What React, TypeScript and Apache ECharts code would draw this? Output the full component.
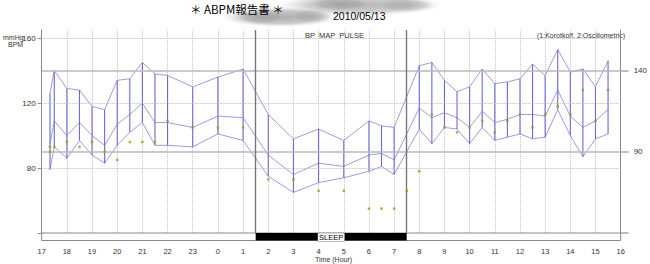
import React, { useEffect, useRef } from "react";
import * as echarts from "echarts";

// Measurement times (hours, continuous: 24 = 0:00, 40 = 16:00 next day)
const times = [17.33, 17.5, 18, 18.5, 19, 19.5, 20, 20.5, 21, 21.5, 22, 23, 24, 25, 26, 27, 28, 29, 30, 30.5, 31, 32, 32.5, 33, 33.5, 34, 34.5, 35, 35.5, 36, 36.5, 37, 37.5, 38, 38.5, 39, 39.5];
const sbp = [126, 140, 129, 128, 118, 116, 134, 135, 145, 138, 137, 130, 136, 141, 113, 98, 104, 97, 109, 106, 105, 143, 145, 134, 127, 130, 141, 132, 133, 135, 144, 137, 153, 139, 141, 130, 146];
const mapv = [95, 109, 100, 108, 100, 94, 107, 113, 120, 108, 108, 105, 112, 111, 88, 76, 83, 81, 88, 89, 85, 117, 111, 114, 111, 105, 115, 108, 110, 113, 113, 112, 128, 112, 105, 109, 116];
const dbp = [79, 93, 86, 97, 88, 83, 94, 102, 108, 94, 94, 93, 101, 97, 75, 65, 71, 74, 78, 81, 76, 104, 95, 105, 104, 95, 105, 97, 99, 101, 98, 99, 116, 100, 87, 98, 101];
const pulse = [90, 93, 96, 93, 96, 90, 85, 96, 96, 96, 109, 105, 105, 105, 73, 73, 66, 66, 55, 55, 55, 78, 113, 105, 102, 105, 109, 102, 109, 113, 105, 113, 118, 113, 128, 109, 128];
const extraPulseTimes = [17.33, 31.5];
const extraPulse = [93, 66];

const sleepStart = 25.5;
const sleepEnd = 31.5;
const leftTicks = [80, 120, 160];
const rightTicks = [90, 140];
const thresholds = [140, 90];

const LINE = "#9c9ce2";
const VLINE = "#6a6ad0";
const PULSE = "#9c9c14";
const FONT = "'Liberation Sans', Arial, sans-serif";

function blob(cx: number, cy: number, rx: number, ry: number, alpha: number) {
  return {
    type: "ellipse",
    z: 1,
    silent: true,
    shape: { cx, cy, rx, ry },
    style: {
      fill: new echarts.graphic.RadialGradient(0.5, 0.5, 0.5, [
        { offset: 0, color: `rgba(150,150,150,${alpha})` },
        { offset: 0.65, color: `rgba(165,165,165,${alpha * 0.75})` },
        { offset: 1, color: "rgba(200,200,200,0)" },
      ]),
    },
  };
}

export default function App() {
  const ref = useRef<HTMLDivElement>(null);
  useEffect(() => {
    if (!ref.current) return;
    const chart = echarts.init(ref.current, null, { renderer: "svg" });
    const pts = (vals: number[]) => times.map((t, i) => [t, vals[i]]);
    const pulsePts = pts(pulse).concat(extraPulseTimes.map((t, i) => [t, extraPulse[i]]));
    const option: any = {
      animation: false,
      textStyle: { fontFamily: FONT },
      grid: { left: 41.7, right: 28.3, top: 30, bottom: 31 },
      xAxis: {
        type: "value",
        min: 17,
        max: 40,
        interval: 1,
        axisLine: { show: true, lineStyle: { color: "#888", width: 1 } },
        axisTick: { show: false },
        axisLabel: {
          formatter: (v: number) => String(v % 24),
          fontSize: 7.5,
          color: "#333",
          margin: 14,
          fontFamily: FONT,
        },
        splitLine: { show: true, lineStyle: { type: "dotted", color: "#c4c4c4", width: 1 } },
      },
      yAxis: [
        {
          type: "value",
          min: 40,
          max: 165,
          position: "left",
          axisLine: { show: true, lineStyle: { color: "#888", width: 1 } },
          axisTick: { show: true, length: 4, customValues: [40, ...leftTicks], lineStyle: { color: "#888" } },
          axisLabel: { customValues: leftTicks, fontSize: 8, color: "#333", margin: 6, fontFamily: FONT },
          splitLine: { show: false },
        },
        {
          type: "value",
          min: 40,
          max: 165,
          position: "right",
          axisLine: { show: true, lineStyle: { color: "#888", width: 1 } },
          axisTick: { show: true, length: 8, customValues: [40, ...rightTicks], lineStyle: { color: "#aaa", width: 1.5 } },
          axisLabel: { customValues: rightTicks, fontSize: 8, color: "#333", margin: 13, fontFamily: FONT },
          splitLine: { show: false },
        },
      ],
      graphic: [
        blob(360, 5, 82, 11, 0.7),
        blob(340, 4, 32, 7, 0.7),
        blob(405, 5, 30, 7, 0.5),
        blob(280, 17, 58, 10, 0.8),
        blob(262, 17, 24, 7, 0.6),
        blob(310, 16, 22, 7, 0.5),
        {
          type: "text", left: 190, top: 3, z: 10,
          style: { text: "＊ ABPM報告書 ＊", fontSize: 11.5, fill: "#000", fontFamily: "'Noto Sans CJK JP', sans-serif" },
        },
        { type: "text", left: 333, top: 10, z: 10, style: { text: "2010/05/13", fontSize: 10.5, fill: "#000", fontFamily: FONT } },
        { type: "text", left: 3, top: 34, style: { text: "mmHg", fontSize: 7, fill: "#333", fontFamily: FONT } },
        { type: "text", left: 8, top: 41, style: { text: "BPM", fontSize: 7, fill: "#333", fontFamily: FONT } },
        { type: "text", left: 305, top: 31.5, style: { text: "BP  MAP  PULSE", fontSize: 7.5, fill: "#333", fontFamily: FONT } },
        { type: "text", left: 537, top: 31.5, style: { text: "(1:Korotkoff, 2:Oscillometric)", fontSize: 7, fill: "#333", fontFamily: FONT } },
        { type: "text", left: 315, top: 256, style: { text: "Time (Hour)", fontSize: 7, fill: "#333", fontFamily: FONT } },
      ],
      series: [
        {
          type: "line",
          name: "SBP",
          data: pts(sbp),
          showSymbol: false,
          lineStyle: { color: LINE, width: 1 },
          z: 3,
          markLine: {
            silent: true,
            symbol: "none",
            label: { show: false },
            animation: false,
            data: [
              ...leftTicks.map((v) => ({ yAxis: v, lineStyle: { type: "dotted", color: "#bdbdbd", width: 1 } })),
              ...thresholds.map((v) => ({ yAxis: v, lineStyle: { type: "solid", color: "#b8b8b8", width: 1.6 } })),
              { xAxis: sleepStart, lineStyle: { type: "solid", color: "#777", width: 1.4 } },
              { xAxis: sleepEnd, lineStyle: { type: "solid", color: "#777", width: 1.4 } },
            ],
          },
        },
        { type: "line", name: "MAP", data: pts(mapv), showSymbol: false, lineStyle: { color: LINE, width: 1 }, z: 3 },
        { type: "line", name: "DBP", data: pts(dbp), showSymbol: false, lineStyle: { color: LINE, width: 1 }, z: 3 },
        {
          type: "custom",
          name: "range",
          data: times.map((t, i) => [t, sbp[i], dbp[i]]),
          encode: { x: 0, y: [1, 2] },
          z: 4,
          renderItem: (params: any, api: any) => {
            const p1 = api.coord([api.value(0), api.value(1)]);
            const p2 = api.coord([api.value(0), api.value(2)]);
            return {
              type: "line",
              shape: { x1: p1[0], y1: p1[1], x2: p2[0], y2: p2[1] },
              style: { stroke: VLINE, lineWidth: 1.1 },
            };
          },
        },
        {
          type: "scatter",
          name: "PULSE",
          data: pulsePts,
          symbol: "rect",
          symbolSize: 2.5,
          itemStyle: { color: PULSE },
          z: 5,
        },
        {
          type: "custom",
          name: "sleep",
          clip: false,
          data: [[sleepStart, sleepEnd]],
          encode: { x: [0, 1] },
          z: 6,
          renderItem: (params: any, api: any) => {
            const a = api.coord([17, 40]);
            const b = api.coord([40, 40]);
            const s = api.coord([api.value(0), 40]);
            const e = api.coord([api.value(1), 40]);
            const m = api.coord([(api.value(0) + api.value(1)) / 2, 40]);
            const h = 7.5;
            return {
              type: "group",
              children: [
                { type: "rect", shape: { x: a[0], y: a[1], width: b[0] - a[0], height: h }, style: { fill: "#fff", stroke: "#888", lineWidth: 1 } },
                { type: "rect", shape: { x: s[0], y: a[1], width: e[0] - s[0], height: h }, style: { fill: "#000" } },
                {
                  type: "text",
                  x: m[0],
                  y: a[1] + h / 2 + 0.5,
                  style: {
                    text: "SLEEP",
                    fontSize: 7.5,
                    fill: "#000",
                    fontFamily: FONT,
                    align: "center",
                    verticalAlign: "middle",
                    backgroundColor: "#fff",
                    borderColor: "#888",
                    borderWidth: 0.5,
                    padding: [0, 1, 0, 1],
                  },
                },
              ],
            };
          },
        },
      ],
    };
    chart.setOption(option);
    return () => chart.dispose();
  }, []);
  return (
    <div
      ref={ref}
      style={{ position: "fixed", left: 0, top: 0, width: 650, height: 264, background: "#fff" }}
    />
  );
}
